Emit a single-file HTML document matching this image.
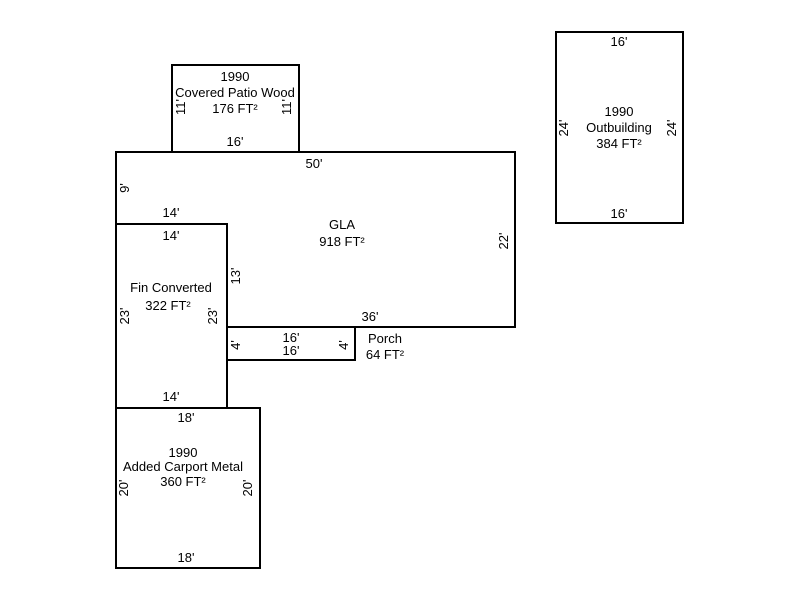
<!DOCTYPE html>
<html><head><meta charset="utf-8"><style>
html,body{margin:0;padding:0;background:#fff;width:800px;height:600px;overflow:hidden}
svg text{font-family:"Liberation Sans",Arial,sans-serif;font-size:13px;fill:#000}
</style></head><body>
<svg width="800" height="600" xmlns="http://www.w3.org/2000/svg">
<g fill="none" stroke="#000" stroke-width="2">
<rect x="172" y="65" width="127" height="87"/>
<polyline points="116,224 116,152 515,152 515,327 227,327"/>
<rect x="116" y="224" width="111" height="184"/>
<rect x="227" y="327" width="128" height="33"/>
<rect x="116" y="408" width="144" height="160"/>
<rect x="556" y="32" width="127" height="191"/>
</g>
<g text-anchor="middle">
<text x="235" y="81">1990</text>
<text x="235" y="97">Covered Patio Wood</text>
<text x="235" y="113">176 FT²</text>
<text x="235" y="146">16'</text>
<text x="314" y="168">50'</text>
<text x="171" y="217">14'</text>
<text x="171" y="240">14'</text>
<text x="342" y="229">GLA</text>
<text x="342" y="246">918 FT²</text>
<text x="171" y="292">Fin Converted</text>
<text x="168" y="310">322 FT²</text>
<text x="370" y="321">36'</text>
<text x="291" y="342">16'</text>
<text x="291" y="355">16'</text>
<text x="385" y="343">Porch</text>
<text x="385" y="359">64 FT²</text>
<text x="171" y="401">14'</text>
<text x="186" y="422">18'</text>
<text x="183" y="457">1990</text>
<text x="183" y="471">Added Carport Metal</text>
<text x="183" y="486">360 FT²</text>
<text x="186" y="562">18'</text>
<text x="619" y="46">16'</text>
<text x="619" y="116">1990</text>
<text x="619" y="132">Outbuilding</text>
<text x="619" y="148">384 FT²</text>
<text x="619" y="218">16'</text>
<text transform="translate(185,107) rotate(-90)">11'</text>
<text transform="translate(291,107) rotate(-90)">11'</text>
<text transform="translate(129,188) rotate(-90)">9'</text>
<text transform="translate(240,276) rotate(-90)">13'</text>
<text transform="translate(129,316) rotate(-90)">23'</text>
<text transform="translate(217,316) rotate(-90)">23'</text>
<text transform="translate(240,345) rotate(-90)">4'</text>
<text transform="translate(348,345) rotate(-90)">4'</text>
<text transform="translate(508,241) rotate(-90)">22'</text>
<text transform="translate(128,488) rotate(-90)">20'</text>
<text transform="translate(252,488) rotate(-90)">20'</text>
<text transform="translate(568,128) rotate(-90)">24'</text>
<text transform="translate(676,128) rotate(-90)">24'</text>
</g>
</svg>
</body></html>
